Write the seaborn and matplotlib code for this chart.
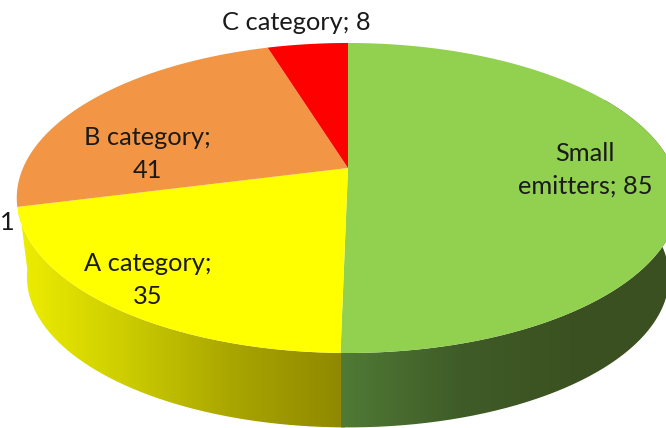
import numpy as np
import matplotlib
matplotlib.use("Agg")
import matplotlib.pyplot as plt
from matplotlib.colors import LinearSegmentedColormap
from matplotlib.patches import PathPatch
from matplotlib.path import Path
from matplotlib.transforms import Affine2D, Transform
import seaborn as sns

categories = ["Small emitters", "A category", "B category", "C category"]
values = [85, 35, 41, 8]

sns.set_theme(style="white")
plt.rcParams['font.family'] = ['Lato', 'DejaVu Sans']

palette = sns.color_palette(["#92d050", "#ffff00", "#f29646", "#ff0000"])


class Tilt(Transform):
    # flat pie -> pixels, with some perspective (near edge looks bigger)
    input_dims = 2
    output_dims = 2
    has_inverse = False

    def __init__(self, cx, cy, rx, ry, k):
        super().__init__()
        self.cx, self.cy, self.rx, self.ry, self.k = cx, cy, rx, ry, k

    def transform_non_affine(self, xy):
        xy = np.asarray(xy, dtype=float)
        d = 1 + self.k * xy[:, 1]
        return np.column_stack([self.cx + self.rx * xy[:, 0] / d,
                                self.cy - self.ry * xy[:, 1] / d])

    def transform_path_non_affine(self, path):
        # flatten the curves first, control points dont survive perspective
        polys = path.transformed(Affine2D().scale(2000)).to_polygons(closed_only=False)
        return Path(self.transform_non_affine(polys[0] / 2000))


top = Tilt(348, 168, 325, 149.2, 0.1935)
bottom = Tilt(348, 248, 315, 144.7, 0.1935)

f, ax = plt.subplots(figsize=(6.66, 4.28), dpi=100)
f.subplots_adjust(0, 0, 1, 1)


def wall(a0, a1, colors, x0, x1, z):
    # side of the pie between clock angles a0, a1, filled with a sideways gradient
    t = np.radians(np.linspace(a0, a1, 200))
    unit = np.column_stack([np.sin(t), np.cos(t)])
    pts = np.vstack([top.transform_non_affine(unit), bottom.transform_non_affine(unit)[::-1]])
    clip = PathPatch(Path(pts, closed=False), transform=ax.transData, fc="none", ec="none")
    ax.add_patch(clip)
    cmap = LinearSegmentedColormap.from_list("w", colors)
    im = ax.imshow(np.linspace(0, 1, 256)[None, :], cmap=cmap, extent=(x0, x1, 428, 0),
                   aspect="auto", zorder=z)
    im.set_clip_path(clip)


angles = np.cumsum(values) / np.sum(values) * 360

# yellow goes a bit under the green so no light seam shows
wall(angles[0] - 2, angles[1] + 6, ["#eeee00", "#cccc00", "#a8a400", "#8f8800"], 18, 345, 1)
wall(60, angles[0], ["#507a35", "#3f5c28", "#3b5020", "#3b5020"], 341, 700, 1.5)

wedges, _ = ax.pie(values, colors=palette, startangle=90, counterclock=False,
                   wedgeprops=dict(linewidth=0))
for w in wedges:
    w.set_transform(top + ax.transData)
    w.set_zorder(2)

ax.set_aspect("auto")
ax.set_xlim(0, 666)
ax.set_ylim(428, 0)
ax.axis("off")

fs = 18.3
ls = 1.5
ax.text(585, 170, "Small\nemitters; %d" % values[0], ha="center", va="center", fontsize=fs, linespacing=ls, color="k", zorder=3)
ax.text(148, 280, "%s;\n%d" % (categories[1], values[1]), ha="center", va="center", fontsize=fs, linespacing=ls, color="k", zorder=3)
ax.text(147, 154, "%s;\n%d" % (categories[2], values[2]), ha="center", va="center", fontsize=fs, linespacing=ls, color="k", zorder=3)
ax.text(296, 22, "%s; %d" % (categories[3], values[3]), ha="center", va="center", fontsize=fs, color="k", zorder=3)
ax.text(0, 222, "1", ha="left", va="center", fontsize=fs, color="k", zorder=3)

plt.savefig("out.png", dpi=100)
